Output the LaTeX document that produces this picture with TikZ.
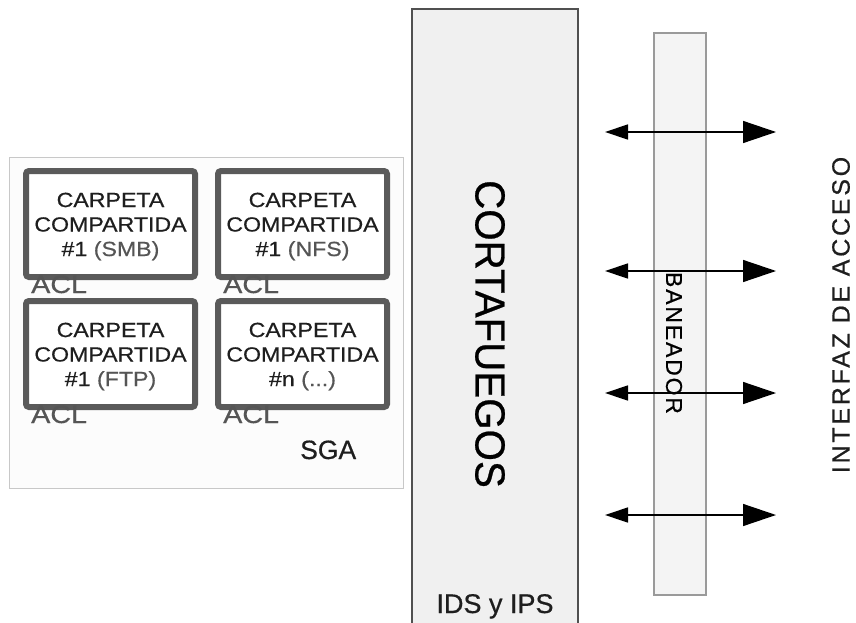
\documentclass[tikz,border=0pt]{standalone}
\usepackage{fontspec}
\setmainfont{Liberation Sans}[FakeBold=0.6]
\newfontfamily\widefont{Liberation Sans}[FakeStretch=1.13,FakeBold=0.5]
\newfontfamily\aclfont{Liberation Sans}[FakeStretch=1.15,FakeBold=0.5]
\usetikzlibrary{arrows.meta}
\definecolor{boxgray}{HTML}{5A5A5A}
\definecolor{txtdark}{HTML}{1E1E1E}
\definecolor{txtgray}{HTML}{555555}
\definecolor{sgaline}{HTML}{C8C8C8}
\definecolor{sgafill}{HTML}{FCFCFC}
\definecolor{fwfill}{HTML}{F0F0F0}
\definecolor{fwline}{HTML}{505050}
\definecolor{banfill}{HTML}{F4F4F4}
\definecolor{banline}{HTML}{9A9A9A}
\tikzset{
  folder/.style={draw=boxgray, line width=6pt, rounded corners=3pt, fill=white,
    minimum width=169pt, minimum height=106pt, inner sep=0pt},
  foldertext/.style={inner sep=0pt, align=center, text=txtdark,
    font=\widefont\fontsize{20.5pt}{24.5pt}\selectfont},
  acl/.style={inner sep=0pt, anchor=base west, text=txtgray,
    font=\aclfont\fontsize{25pt}{25pt}\selectfont},
  twoway/.style={line width=1.4pt, {Triangle[length=23pt,width=15pt]}-{Triangle[length=33pt,width=22pt]}}
}
\begin{document}
\begin{tikzpicture}[x=1pt,y=-1pt]
\useasboundingbox (0,0) rectangle (856,623);
% SGA container
\node[draw=sgaline, fill=sgafill, line width=1pt, minimum width=394pt, minimum height=331pt, inner sep=0pt] (sga) at (206,322.5) {};
% folders
\node[folder] (b1) at (110.5,224) {};
\node[folder] (b2) at (302.5,224) {};
\node[folder] (b3) at (110.5,354) {};
\node[folder] (b4) at (302.5,354) {};
\node[foldertext] (t1) at (110.5,226.5) {CARPETA\\COMPARTIDA\\\#1 \textcolor{txtgray}{(SMB)}};
\node[foldertext] (t2) at (302.5,226.5) {CARPETA\\COMPARTIDA\\\#1 \textcolor{txtgray}{(NFS)}};
\node[foldertext] (t3) at (110.5,356.5) {CARPETA\\COMPARTIDA\\\#1 \textcolor{txtgray}{(FTP)}};
\node[foldertext] (t4) at (302.5,356.5) {CARPETA\\COMPARTIDA\\\#n \textcolor{txtgray}{(...)}};
\node[acl] (a1) at (31,293) {ACL};
\node[acl] (a2) at (223,293) {ACL};
\node[acl] (a3) at (31,423) {ACL};
\node[acl] (a4) at (223,423) {ACL};
\node[inner sep=0pt, anchor=base west, text=txtdark, font=\fontsize{26.5pt}{26.5pt}\selectfont] (sgal) at (300,459) {SGA};
% firewall
\node[draw=fwline, fill=fwfill, line width=1.5pt, minimum width=166pt, minimum height=630pt, inner sep=0pt] (fw) at (495,324) {};
\node[inner sep=0pt, rotate=-90, text=black, font=\fontsize{42pt}{42pt}\selectfont] (fwl) at (490,334) {\scalebox{0.96}[1]{CORTAFUEGOS}};
\node[inner sep=0pt, anchor=base, text=txtdark, font=\fontsize{27pt}{27pt}\selectfont] (ids) at (495,613) {IDS y IPS};
% baneador bar
\node[draw=banline, fill=banfill, line width=1.5pt, minimum width=52pt, minimum height=562pt, inner sep=0pt] (ban) at (680,314) {};
\node[inner sep=0pt, rotate=-90, text=black, font=\fontsize{23pt}{23pt}\selectfont\addfontfeature{LetterSpace=8}] (banl) at (674,343) {BANEADOR};
% arrows
\foreach \i/\y in {1/132,2/271,3/393,4/515}{
  \coordinate (l\i) at (605,\y);
  \coordinate (r\i) at (776,\y);
  \draw[twoway] (l\i) -- (r\i);
}
\node[inner sep=0pt, rotate=90, text=txtdark, font=\fontsize{25pt}{25pt}\selectfont\addfontfeature{LetterSpace=11}] (acc) at (841,315) {INTERFAZ DE ACCESO};
\end{tikzpicture}
\end{document}
